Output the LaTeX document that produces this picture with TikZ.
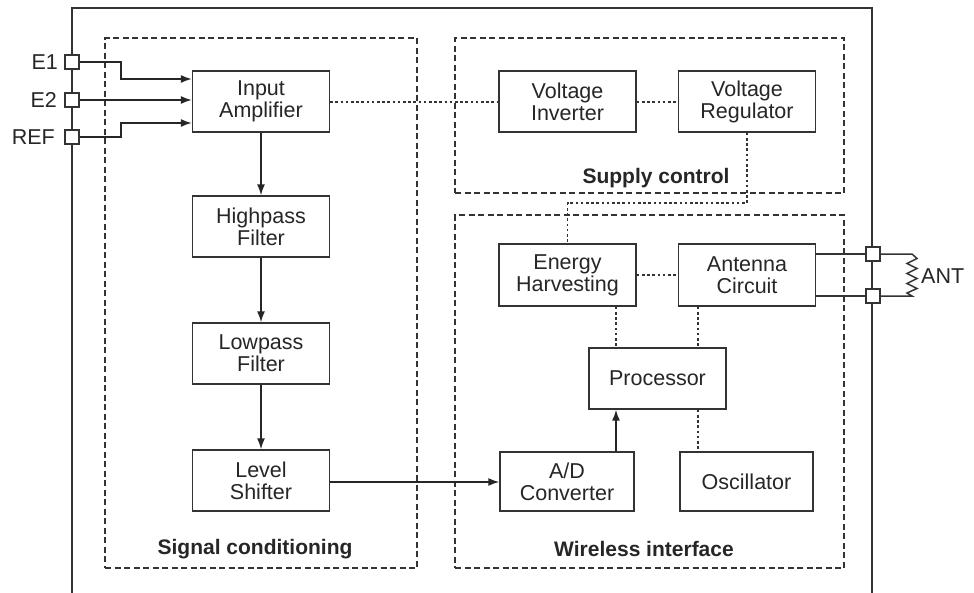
\documentclass[tikz,border=0pt]{standalone}
\usepackage{fontspec}
\setmainfont{Liberation Sans}
\usetikzlibrary{arrows.meta}
\begin{document}
\begin{tikzpicture}[x=1pt,y=-1pt,
  box/.style={draw=black!80, line width=1.4pt, fill=white, align=center, inner sep=0pt, text=black!85,
    font=\fontsize{21.5}{22}\selectfont, minimum width=137pt, minimum height=61pt},
  grp/.style={draw=black!80, line width=1.3pt, dash pattern=on 6pt off 3.5pt, inner sep=0pt},
  dotl/.style={draw=black!80, line width=1.5pt, dash pattern=on 2.6pt off 2.6pt},
  arr/.style={draw=black!85, line width=1.5pt, -{Latex[length=11pt,width=8pt]}},
  solid1/.style={draw=black!80, line width=1.5pt},
  term/.style={draw=black!80, line width=1.3pt, fill=white, minimum size=14pt, inner sep=0pt},
  lbl/.style={font=\fontsize{21}{22}\selectfont\bfseries, inner sep=0pt, text=black!85},
  tlbl/.style={font=\fontsize{21.5}{22}\selectfont, inner sep=0pt, text=black!85}
]
\useasboundingbox (0,0) rectangle (974,592);
\fill[white] (0,0) rectangle (974,592);
\begin{scope}
\clip (0,0) rectangle (974,592);
\draw[black!80, line width=2pt] (72,620) -- (72,8) -- (872,8) -- (872,620);
\end{scope}

% groups
\node[grp, minimum width=312pt, minimum height=530pt] (sig) at (261,303) {};
\node[grp, minimum width=389pt, minimum height=155pt] (sup) at (649.5,115.5) {};
\node[grp, minimum width=389pt, minimum height=353pt] (wir) at (649.5,391.5) {};
\node[lbl] (sigl) at (255,549) {Signal conditioning};
\node[lbl] (supl) at (656,178) {Supply control};
\node[lbl] (wirl) at (644,549) {Wireless interface};

% blocks
\node[box] (amp) at (261,101.5) {Input\\Amplifier};
\node[box] (hp) at (261,226.5) {Highpass\\Filter};
\node[box] (lp) at (261,353.5) {Lowpass\\Filter};
\node[box] (ls) at (261,480.5) {Level\\Shifter};
\node[box] (inv) at (567.5,101.5) {Voltage\\Inverter};
\node[box] (reg) at (747,101.5) {Voltage\\Regulator};
\node[box, minimum height=62pt] (eh) at (567.5,275) {Energy\\Harvesting};
\node[box, minimum height=62pt] (ant) at (747,275) {Antenna\\Circuit};
\node[box] (proc) at (657.5,378.5) {Processor};
\node[box, minimum width=134pt, minimum height=59pt] (ad) at (567,481.5) {A/D\\Converter};
\node[box, minimum width=133pt, minimum height=59pt] (osc) at (746.5,481.5) {Oscillator};

% terminals
\node[term] (e1) at (72,62) {};
\node[term] (e2) at (72,100) {};
\node[term] (ref) at (72,137) {};
\node[tlbl, anchor=east] (e1l) at (58,62) {E1};
\node[tlbl, anchor=east] (e2l) at (57,100) {E2};
\node[tlbl, anchor=east] (refl) at (55,137) {REF};
\node[term] (t1) at (873,254) {};
\node[term] (t2) at (873,296) {};
\node[tlbl, anchor=west] (antl) at (921,276) {ANT};

\coordinate (xa) at (616,0);
\coordinate (xb) at (698,0);
\coordinate (ly) at (0,203);
\coordinate (ya) at (0,102);
\coordinate (yl) at (0,482);

% input connectors
\draw[arr] (e1.east) -- ++(41.5,0) |- ([yshift=22.5pt]amp.west);
\draw[arr] (e2.east) -- (amp.west |- e2.east);
\draw[arr] (ref.east) -- ++(41.5,0) |- ([yshift=-21.5pt]amp.west);

% signal chain
\draw[arr] (amp.south) -- (hp.north);
\draw[arr] (hp.south) -- (lp.north);
\draw[arr] (lp.south) -- (ls.north);
\draw[arr] (ls.east |- yl) -- (ad.west |- yl);
\draw[arr] (ad.north -| xa) -- (proc.south -| xa);

% dotted links
\draw[dotl] (amp.east |- ya) -- (inv.west |- ya);
\draw[dotl] (inv.east |- ya) -- (reg.west |- ya);
\draw[dotl] (reg.south) -- (reg.south |- ly) -| (eh.north);
\draw[dotl] (eh.east) -- (ant.west);
\draw[dotl] (eh.south -| xa) -- (proc.north -| xa);
\draw[dotl] (ant.south -| xb) -- (proc.north -| xb);
\draw[dotl] (proc.south -| xb) -- (osc.north -| xb);

% antenna
\draw[solid1] (ant.east |- t1) -- (t1.west);
\draw[solid1] (ant.east |- t2) -- (t2.west);
\draw[solid1, line join=miter] (t1.east) -- (912,254) -- (917,258.5) -- (907,263.5) -- (917,268.5) -- (907,273.5)
  -- (917,278.5) -- (907,283.5) -- (917,288.5) -- (907,293) -- (912,296) -- (t2.east);
\end{tikzpicture}
\end{document}
